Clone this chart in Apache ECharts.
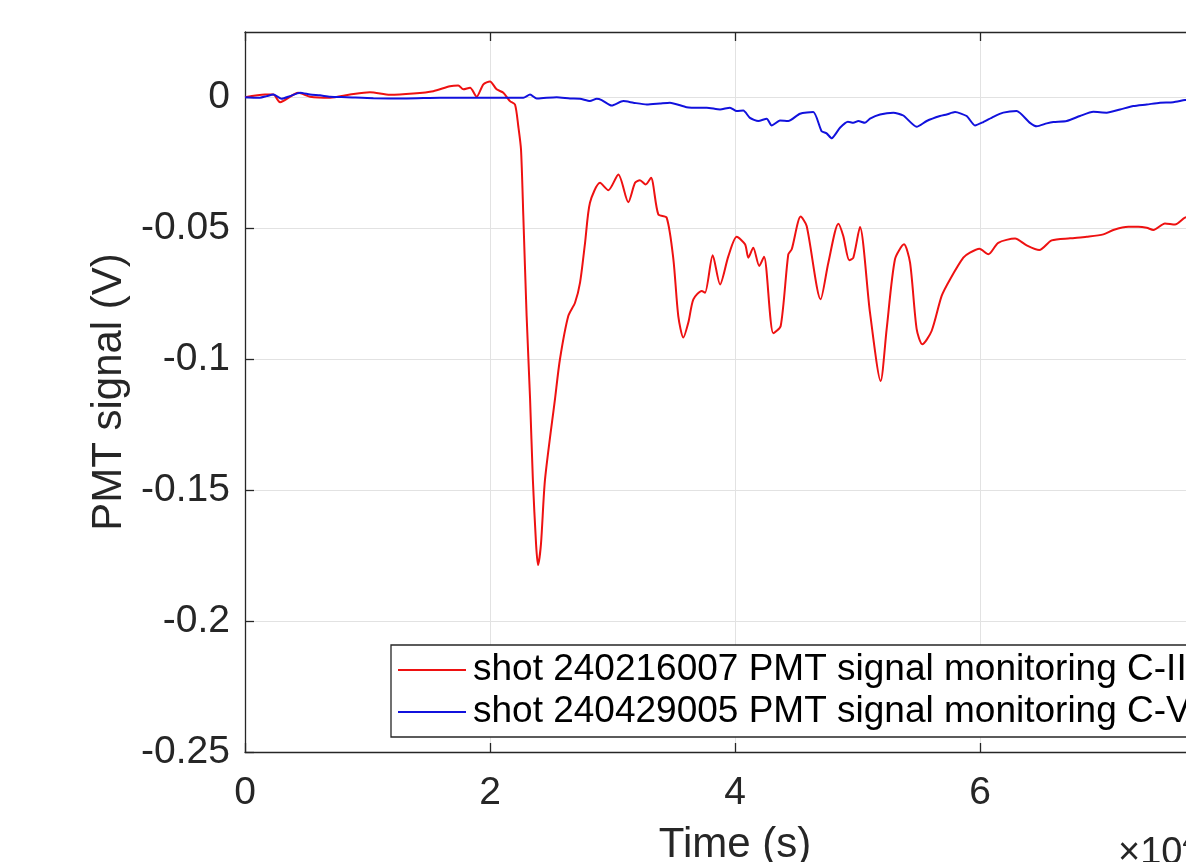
<!DOCTYPE html>
<html><head><meta charset="utf-8">
<script src="https://cdn.jsdelivr.net/npm/echarts@6/dist/echarts.min.js"></script>
<style>html,body{margin:0;padding:0;overflow:hidden;background:#fff;width:1186px;height:862px}#c{width:1300px;height:862px}</style>
</head><body><div id="c"></div>
<script>
// red: shot 240216007 (x in units of the axis, before x10 exponent)
const redX = [0,0.163,0.231,0.286,0.435,0.531,0.694,0.857,1.02,1.184,1.374,1.537,1.673,1.741,1.782,1.837,1.891,1.946,2.0,2.054,2.109,2.163,2.204,2.231,2.253,2.272,2.299,2.327,2.35,2.376,2.392,2.416,2.449,2.531,2.571,2.639,2.694,2.735,2.776,2.816,2.898,2.966,3.048,3.129,3.184,3.224,3.271,3.314,3.374,3.442,3.497,3.537,3.578,3.619,3.66,3.728,3.755,3.818,3.878,3.946,4.014,4.082,4.109,4.149,4.198,4.237,4.313,4.373,4.435,4.463,4.536,4.585,4.699,4.762,4.844,4.884,4.933,4.966,5.02,5.102,5.189,5.238,5.306,5.38,5.429,5.483,5.529,5.605,5.687,5.755,5.864,5.918,5.995,6.068,6.149,6.286,6.381,6.484,6.585,6.735,6.871,7.007,7.088,7.211,7.292,7.361,7.415,7.51,7.592,7.673,7.75];
const redY = [0.0001,0.0011,0.0011,-0.0018,0.0018,0.0003,-0.0001,0.0011,0.002,0.001,0.0015,0.0024,0.0043,0.0046,0.0031,0.0037,0.0003,0.005,0.0061,0.0031,0.0018,-0.0014,-0.0027,-0.011,-0.0198,-0.0453,-0.0835,-0.115,-0.146,-0.1706,-0.1786,-0.1706,-0.146,-0.115,-0.1,-0.0835,-0.0784,-0.0707,-0.0555,-0.0402,-0.0326,-0.0354,-0.0294,-0.04,-0.0326,-0.0316,-0.0332,-0.0307,-0.0447,-0.0459,-0.0618,-0.0835,-0.0917,-0.086,-0.0771,-0.0739,-0.0746,-0.0603,-0.0714,-0.0606,-0.0532,-0.0561,-0.0612,-0.0574,-0.0644,-0.0608,-0.0901,-0.0873,-0.0599,-0.058,-0.0455,-0.0491,-0.0771,-0.0631,-0.0482,-0.0529,-0.0622,-0.0612,-0.0495,-0.0822,-0.1083,-0.0885,-0.0618,-0.0561,-0.0631,-0.0885,-0.0943,-0.0892,-0.0758,-0.0695,-0.0612,-0.0593,-0.0578,-0.0599,-0.0555,-0.0539,-0.0565,-0.0583,-0.0546,-0.0538,-0.0532,-0.0523,-0.0506,-0.0494,-0.0494,-0.0498,-0.0506,-0.0481,-0.0485,-0.0459,-0.0452];
// blue: shot 240429005
const blueX = [0,0.122,0.177,0.231,0.299,0.367,0.449,0.531,0.612,0.694,0.83,1.048,1.32,1.592,1.864,2.272,2.327,2.381,2.463,2.544,2.653,2.735,2.816,2.871,2.912,2.993,3.088,3.17,3.279,3.388,3.469,3.605,3.714,3.769,3.878,3.959,4.014,4.068,4.122,4.19,4.259,4.3,4.367,4.435,4.531,4.639,4.707,4.748,4.789,4.857,4.922,4.966,5.007,5.061,5.102,5.184,5.293,5.374,5.483,5.565,5.673,5.728,5.796,5.891,5.959,6.027,6.109,6.19,6.299,6.408,6.463,6.545,6.599,6.708,6.816,6.925,7.034,7.143,7.252,7.361,7.469,7.578,7.673,7.75];
const blueY = [0.0001,-0.0001,0.0005,0.0011,-0.0005,0.0005,0.0018,0.0011,0.0008,0.0003,0.0001,-0.0003,-0.0004,-0.0001,-0.0001,-0.0001,0.0011,-0.0004,-0.0001,0.0001,-0.0004,-0.0005,-0.0014,-0.0005,-0.001,-0.0031,-0.0014,-0.002,-0.0027,-0.0023,-0.002,-0.0037,-0.0039,-0.0039,-0.0046,-0.0039,-0.0052,-0.005,-0.0078,-0.009,-0.0081,-0.0107,-0.0088,-0.009,-0.0062,-0.0056,-0.0129,-0.0137,-0.0156,-0.0116,-0.0093,-0.0097,-0.009,-0.0097,-0.0081,-0.0065,-0.0058,-0.0069,-0.0112,-0.009,-0.0071,-0.0065,-0.0056,-0.0071,-0.0107,-0.0094,-0.0074,-0.0058,-0.0052,-0.0097,-0.011,-0.0099,-0.0094,-0.009,-0.0071,-0.0055,-0.0058,-0.0046,-0.0033,-0.0027,-0.002,-0.0018,-0.001,-0.0007];
const seriesNames = ['shot 240216007 PMT signal monitoring C-III','shot 240429005 PMT signal monitoring C-V'];
const xTicks = {min:0, max:8, interval:2};
const yTicks = {min:-0.25, max:0.025, interval:0.05};

const F = 'Liberation Sans, Helvetica, Arial, sans-serif';
const axisCol = '#262626';
const chart = echarts.init(document.getElementById('c'));
const pair = (xs, ys) => xs.map((x,i)=>[x, ys[i]]);
chart.setOption({
  animation:false,
  backgroundColor:'#fff',
  grid:{left:245, right:75, top:32, bottom:110, containLabel:false, outerBoundsMode:'none'},
  xAxis:[{
    type:'value', min:xTicks.min, max:xTicks.max, interval:xTicks.interval,
    name:'Time (s)', nameLocation:'middle', nameGap:72,
    nameTextStyle:{fontFamily:F, fontSize:42, color:axisCol},
    axisLine:{show:true, onZero:false, lineStyle:{color:axisCol, width:1.3}},
    axisTick:{show:true, inside:true, length:9, lineStyle:{color:axisCol, width:1.3}},
    axisLabel:{fontFamily:F, fontSize:39, color:axisCol, margin:22},
    splitLine:{show:true, lineStyle:{color:'#e2e2e2', width:1}}
  },{
    type:'value', position:'top', min:xTicks.min, max:xTicks.max, interval:xTicks.interval,
    axisLine:{show:true, onZero:false, lineStyle:{color:axisCol, width:1.3}},
    axisTick:{show:true, inside:true, length:9, lineStyle:{color:axisCol, width:1.3}},
    axisLabel:{show:false}, splitLine:{show:false}
  }],
  yAxis:{
    type:'value', min:yTicks.min, max:yTicks.max, interval:yTicks.interval,
    name:'PMT signal (V)', nameLocation:'middle', nameGap:114, nameRotate:90,
    nameTextStyle:{fontFamily:F, fontSize:42, color:axisCol},
    axisLine:{show:true, onZero:false, lineStyle:{color:axisCol, width:1.3}},
    axisTick:{show:true, inside:true, length:9, lineStyle:{color:axisCol, width:1.3}},
    axisLabel:{fontFamily:F, fontSize:39, color:axisCol, margin:15, showMaxLabel:false,
      padding:[11,0,0,0],
      formatter:v=>String(+(+v).toFixed(3))},
    splitLine:{show:true, lineStyle:{color:'#e2e2e2', width:1}}
  },
  legend:{
    orient:'vertical', left:391, top:645,
    backgroundColor:'#fff', borderColor:axisCol, borderWidth:1.3, borderRadius:0,
    padding:[4,12,4,7], itemGap:0, itemWidth:68, itemHeight:2, icon:'rect',
    textStyle:{fontFamily:F, fontSize:37, color:'#000', lineHeight:42, padding:[0,0,0,2]},
    data:seriesNames
  },
  series:[
    {name:seriesNames[0], type:'line', data:pair(redX, redY), symbol:'none', smooth:0.25,
     lineStyle:{color:'#ee1111', width:2}, itemStyle:{color:'#ee1111'}},
    {name:seriesNames[1], type:'line', data:pair(blueX, blueY), symbol:'none', smooth:0.2,
     lineStyle:{color:'#1111dd', width:2}, itemStyle:{color:'#1111dd'}}
  ],
  graphic:[{type:'text', left:1118, top:830, style:{
    text:'×10{s|4}', fontFamily:F, fontSize:38, fill:axisCol,
    rich:{s:{fontSize:26, verticalAlign:'top', padding:[0,0,22,0], fontFamily:F, fill:axisCol}}}}]
});
</script></body></html>
